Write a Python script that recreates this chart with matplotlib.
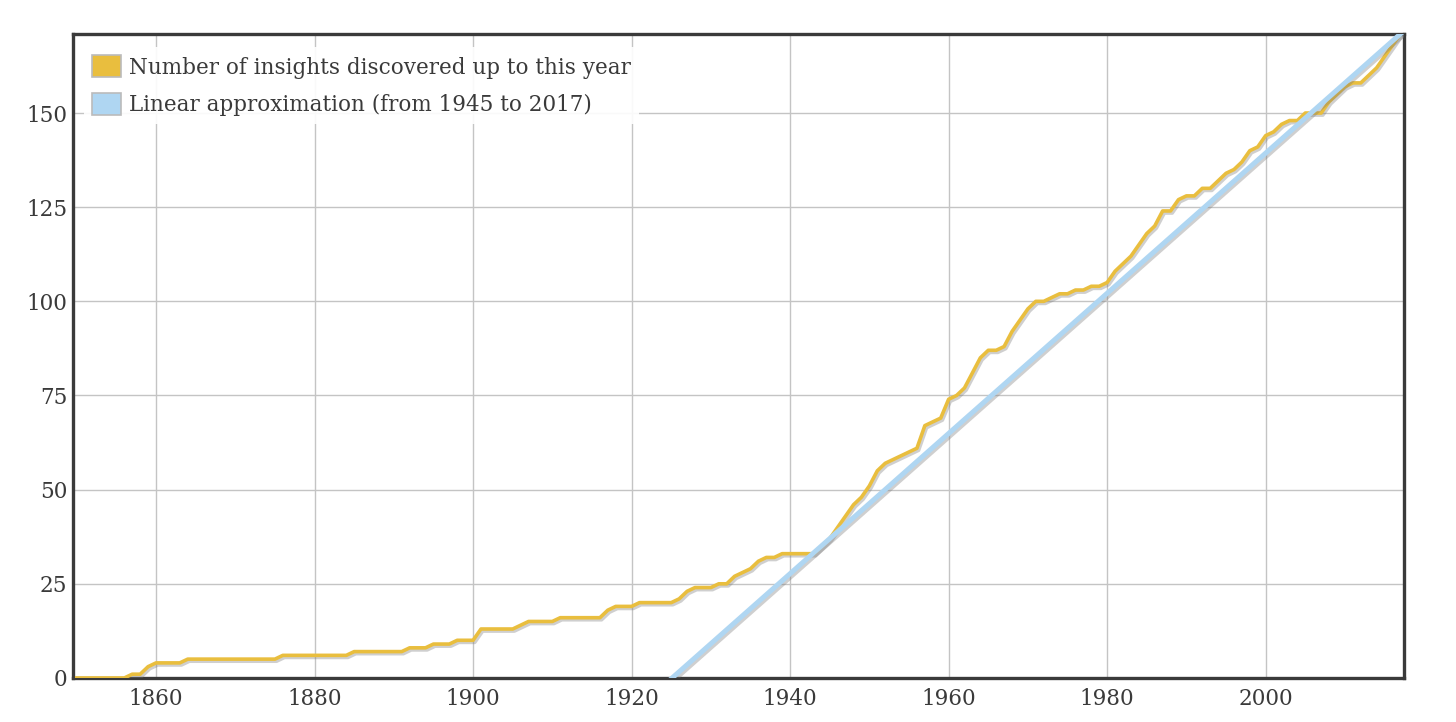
import numpy as np
import matplotlib
matplotlib.use("Agg")
import matplotlib.pyplot as plt
import matplotlib.patheffects as pe
from matplotlib.patches import Patch

# cumulative count of insights, one value per year from 1850 to 2017
years = np.arange(1850, 2018)
insights = [
    0, 0, 0, 0, 0, 0, 0, 1, 1, 3,              # 1850s
    4, 4, 4, 4, 5, 5, 5, 5, 5, 5,              # 1860s
    5, 5, 5, 5, 5, 5, 6, 6, 6, 6,              # 1870s
    6, 6, 6, 6, 6, 7, 7, 7, 7, 7,              # 1880s
    7, 7, 8, 8, 8, 9, 9, 9, 10, 10,            # 1890s
    10, 13, 13, 13, 13, 13, 14, 15, 15, 15,    # 1900s
    15, 16, 16, 16, 16, 16, 16, 18, 19, 19,    # 1910s
    19, 20, 20, 20, 20, 20, 21, 23, 24, 24,    # 1920s
    24, 25, 25, 27, 28, 29, 31, 32, 32, 33,    # 1930s
    33, 33, 33, 33, 35, 37, 40, 43, 46, 48,    # 1940s
    51, 55, 57, 58, 59, 60, 61, 67, 68, 69,    # 1950s
    74, 75, 77, 81, 85, 87, 87, 88, 92, 95,    # 1960s
    98, 100, 100, 101, 102, 102, 103, 103, 104, 104,  # 1970s
    105, 108, 110, 112, 115, 118, 120, 124, 124, 127,  # 1980s
    128, 128, 130, 130, 132, 134, 135, 137, 140, 141,  # 1990s
    144, 145, 147, 148, 148, 150, 150, 150, 153, 155,  # 2000s
    157, 158, 158, 160, 162, 165, 168, 171,            # 2010s
]
insights = np.array(insights)

fit_start, fit_end = 1945, 2017
x_ticks = [1860, 1880, 1900, 1920, 1940, 1960, 1980, 2000]
y_ticks = [0, 25, 50, 75, 100, 125, 150]

gold = "#E9BE3E"
blue = "#AFD6F2"
text_col = "#3a3a3a"

# straight line through the counts at the start and end of the period
v0 = insights[years == fit_start][0]
v1 = insights[years == fit_end][0]
slope = (v1 - v0) / (fit_end - fit_start)
fit_x = np.array([years[0], fit_end])
fit_y = v0 + slope * (fit_x - fit_start)

fig = plt.figure(figsize=(14.56, 7.22), dpi=100)
ax = fig.add_axes([0.050, 0.061, 0.914, 0.892])

shadow = [pe.SimpleLineShadow(offset=(1.2, -1.5), shadow_color="#777777", alpha=0.35),
          pe.Normal()]

ax.plot(years, insights, color=gold, lw=2.6, zorder=3, path_effects=shadow)
ax.plot(fit_x, fit_y, color=blue, lw=3.6, zorder=4, path_effects=shadow)

ax.set_xlim(1849.5, 2017.4)
ax.set_ylim(0, 171)
ax.set_xticks(x_ticks)
ax.set_yticks(y_ticks)
ax.grid(True, color="#c4c4c4", lw=1.0)
ax.set_axisbelow(True)
ax.tick_params(length=0, labelsize=15.5, labelcolor=text_col)
ax.tick_params(axis="y", pad=4)
ax.tick_params(axis="x", pad=7)
for lab in ax.get_xticklabels() + ax.get_yticklabels():
    lab.set_family("DejaVu Serif")
for s in ax.spines.values():
    s.set_color("#3a3a3a")
    s.set_linewidth(2.4)

handles = [Patch(facecolor=gold, edgecolor="#bbbbbb", lw=1.2),
           Patch(facecolor=blue, edgecolor="#bbbbbb", lw=1.2)]
labels = ["Number of insights discovered up to this year",
          "Linear approximation (from 1945 to 2017)"]
leg = ax.legend(handles, labels, loc="upper left", bbox_to_anchor=(0.0, 0.997),
                frameon=True, framealpha=0.9, edgecolor="none", fancybox=False,
                prop={"family": "DejaVu Serif", "size": 15.5}, labelcolor=text_col,
                handlelength=1.35, handleheight=1.2, handletextpad=0.35,
                labelspacing=0.65, borderpad=0.4)
leg.set_zorder(5)

fig.savefig("out.png", dpi=100, facecolor="white")
